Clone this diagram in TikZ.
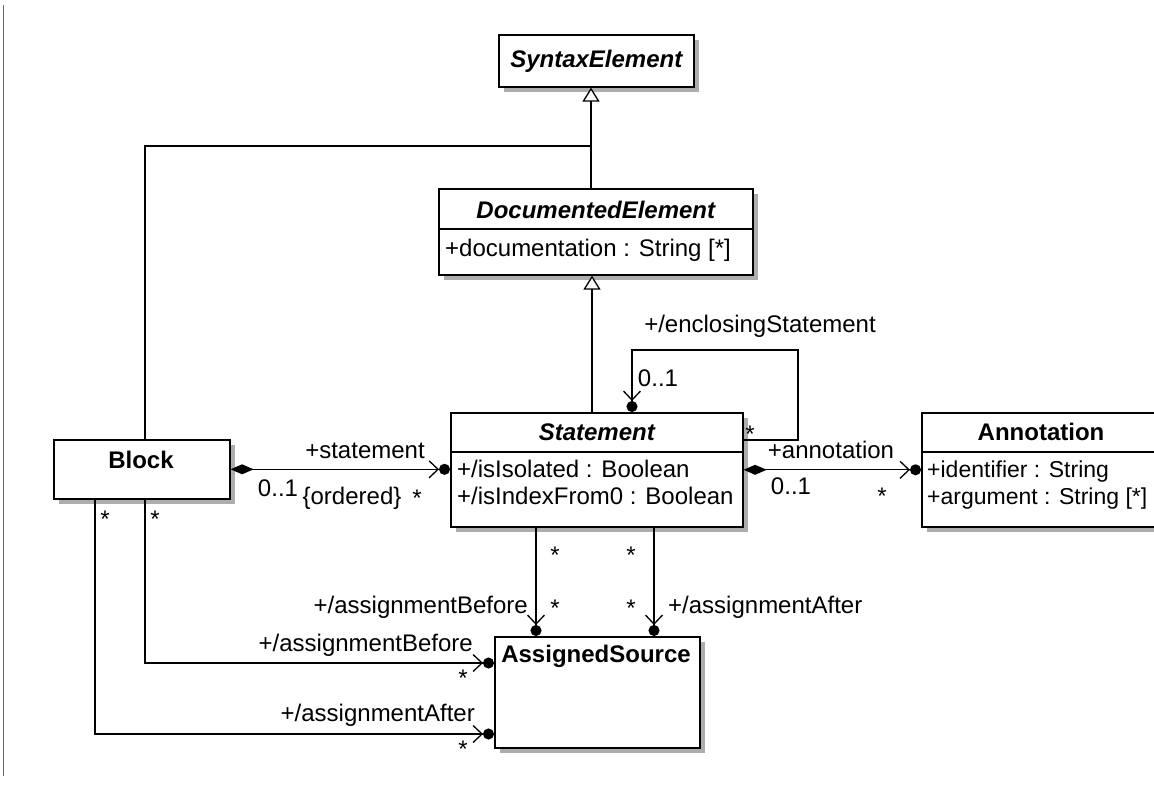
\documentclass[tikz,border=0pt]{standalone}
\usepackage{fontspec}
\setmainfont{Liberation Sans}
\usetikzlibrary{arrows.meta,positioning,shadows,calc}
\newcommand{\dfont}{\fontsize{24}{28}\selectfont}
\tikzset{
  cls/.style={draw,line width=1.6pt,fill=white,anchor=north west,inner sep=0pt,
    drop shadow={shadow xshift=5pt,shadow yshift=-5pt,fill=black!32,opacity=1}},
  sep/.style={line width=1.6pt},
  ttl/.style={inner sep=0pt,font=\dfont\bfseries},
  attr/.style={inner sep=0pt,anchor=west,font=\dfont,text height=17pt,text depth=5pt},
  lbl/.style={inner sep=0pt,font=\dfont,text height=17pt,text depth=5pt},
  mul/.style={lbl,yshift=-8pt},
  conn/.style={line width=1.3pt},
  gen/.style={conn,-{Triangle[open,length=14pt,width=17pt,fill=white]}},
  nav/.style={conn,-{Straight Barb[length=9pt,width=17pt]Circle[length=11pt]}},
  comp/.style={conn,{Diamond[length=23pt,width=10pt]}-{Straight Barb[length=9pt,width=17pt]Circle[length=11pt]}}
}
\begin{document}
\begin{tikzpicture}[x=1pt,y=-1pt]
  \useasboundingbox (0,0) rectangle (1154,787);
  \draw[black!60,line width=1pt] (3,5) -- (3,776);

  % classes
  \node[cls,minimum width=195,minimum height=52] (syn) at (498,34) {};
  \node[ttl] (synT) at (syn.center) {\itshape SyntaxElement};

  \node[cls,minimum width=314,minimum height=86] (doc) at (438,188) {};
  \draw[sep] ([yshift=-41pt]doc.north west) -- ([yshift=-41pt]doc.north east);
  \node[ttl] (docT) at ([yshift=-22pt]doc.north) {\itshape DocumentedElement};
  \node[attr] (docA) at (445,250) {+documentation : String [*]};

  \node[cls,minimum width=292,minimum height=114] (stmt) at (450,412) {};
  \draw[sep] ([yshift=-40pt]stmt.north west) -- ([yshift=-40pt]stmt.north east);
  \node[ttl] (stmtT) at ([yshift=-20pt]stmt.north) {\itshape Statement};
  \node[attr] (stmtA1) at (457,471) {+/isIsolated : Boolean};
  \node[attr] (stmtA2) at (457,498) {+/isIndexFrom0 : Boolean};

  \node[cls,minimum width=240,minimum height=114] (ann) at (921,412) {};
  \draw[sep] ([yshift=-40pt]ann.north west) -- ([yshift=-40pt]ann.north east);
  \node[ttl] (annT) at (1041,432) {Annotation};
  \node[attr,font=\fontsize{23}{27}\selectfont] (annA1) at (927,471) {+identifier : String};
  \node[attr,font=\fontsize{23}{27}\selectfont] (annA2) at (927,498) {+argument : String [*]};

  \node[cls,minimum width=176,minimum height=59] (block) at (53,439) {};
  \node[ttl] (blockT) at (141,460) {Block};

  \node[cls,minimum width=205,minimum height=111] (asrc) at (494,636) {};
  \node[ttl] (asrcT) at (596,656) {AssignedSource};

  % generalisations
  \coordinate (j) at (591,146);
  \coordinate (g) at (592,0);
  \coordinate (bA) at (145,0);
  \coordinate (bB) at (95,0);
  \draw[gen] (doc.north -| j) -- (syn.south -| j);
  \draw[conn] (block.north -| bA) |- (j);
  \draw[gen] (stmt.north -| g) -- (doc.south -| g);

  % associations
  \coordinate (s1) at (798,350);
  \coordinate (s2) at (632,440);
  \draw[nav] (stmt.east |- s2) -| (s1) -| (stmt.north -| s2);
  \draw[comp] (block.east) -- (stmt.west |- block.east);
  \draw[comp] (stmt.east) -- (ann.west);
  \coordinate (v1) at (536,0);
  \coordinate (v2) at (654,0);
  \draw[nav] (stmt.south -| v1) -- (asrc.north -| v1);
  \draw[nav] (stmt.south -| v2) -- (asrc.north -| v2);
  \coordinate (h1) at (0,663);
  \coordinate (h2) at (0,734);
  \draw[nav] (block.south -| bA) |- (asrc.west |- h1);
  \draw[nav] (block.south -| bB) |- (asrc.west |- h2);

  % role names and multiplicities
  \node[lbl] (lStmt) at (365,452) {+statement};
  \node[lbl] (lStmtM1) at (278,490) {0..1};
  \node[lbl] (lOrd) at (352,498) {\{ordered\}};
  \node[mul] (lStmtM2) at (417,492) {*};
  \node[mul] (lBlkM1) at (105,513) {*};
  \node[mul] (lBlkM2) at (155,513) {*};
  \node[lbl] (lEnc) at (760,326) {+/enclosingStatement};
  \node[lbl] (lEncM1) at (658,380) {0..1};
  \node[mul] (lEncM2) at (750,428) {*};
  \node[lbl] (lAnn) at (831,452) {+annotation};
  \node[lbl] (lAnnM1) at (791,488) {0..1};
  \node[mul] (lAnnM2) at (882,490) {*};
  \node[mul] (lV1a) at (555,549) {*};
  \node[mul] (lV1b) at (555,602) {*};
  \node[mul] (lV2a) at (631,549) {*};
  \node[mul] (lV2b) at (631,602) {*};
  \node[lbl,anchor=east] (lBef1) at (528,607) {+/assignmentBefore};
  \node[lbl,anchor=west] (lAft1) at (668,607) {+/assignmentAfter};
  \node[lbl,anchor=east] (lBef2) at (473,645) {+/assignmentBefore};
  \node[lbl,anchor=east] (lAft2) at (475,715) {+/assignmentAfter};
  \node[mul] (lH1) at (463,672) {*};
  \node[mul] (lH2) at (463,743) {*};
\end{tikzpicture}
\end{document}
